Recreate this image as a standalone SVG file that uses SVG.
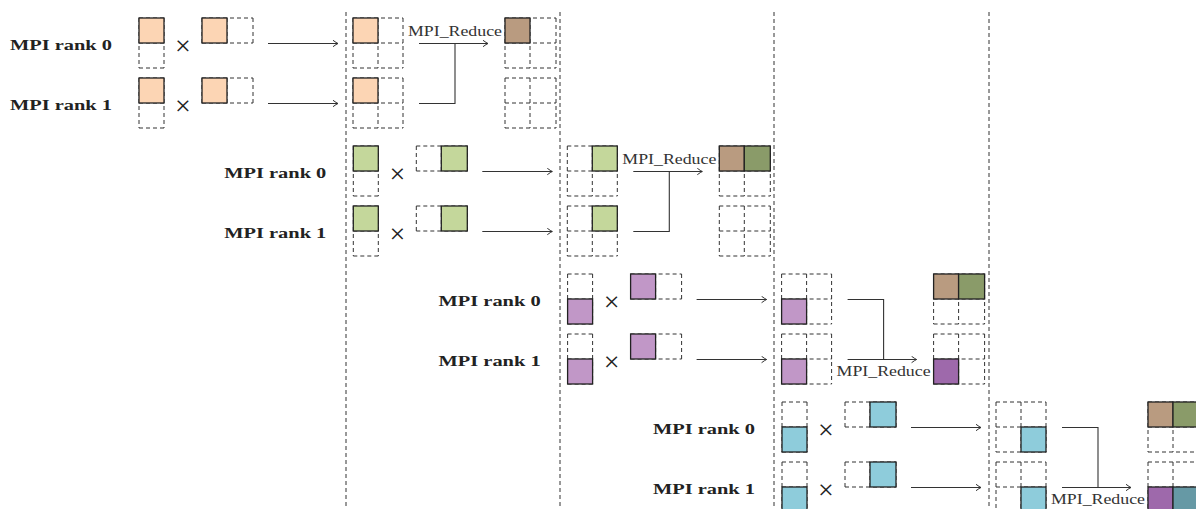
<svg xmlns="http://www.w3.org/2000/svg" width="1196" height="509" viewBox="0 0 1196 509">
<style>
.lbl{font-family:"Liberation Serif",serif;font-weight:bold;font-size:15px;fill:#222}
.red{font-family:"Liberation Serif",serif;font-size:14px;fill:#333}
.tim{font-family:"Liberation Serif",serif;font-size:28px;fill:#222}
.d{fill:none;stroke:#333;stroke-width:1;stroke-dasharray:4 3}
.f{stroke:#222;stroke-width:1.3}
.or{fill:#FCD5B4}.br{fill:#B99B80}.gl{fill:#C4D79B}.gd{fill:#8A9B69}
.pl{fill:#C197C7}.pd{fill:#9E69AB}.bl{fill:#8ECCDB}.tl{fill:#6699A5}
.ar{fill:none;stroke:#333;stroke-width:1.1}
.sep{fill:none;stroke:#333;stroke-width:1;stroke-dasharray:4 3}
</style>
<defs>
<marker id="ah" viewBox="-6 -4 7 8" markerWidth="7" markerHeight="8" refX="0" refY="0" orient="auto" markerUnits="userSpaceOnUse">
<path d="M-5 -3.2 Q-1.5 -0.6 0 0 Q-1.5 0.6 -5 3.2" fill="none" stroke="#333" stroke-width="1"/>
</marker>
</defs>

<g id="separators">
<path class="sep" d="M346 12V509M560 12V509M774 12V509M989 12V509"/>
</g>

<!-- Block 1: orange -->
<g id="block1">
<g id="b1-labels">
<text class="lbl" x="10" y="50" textLength="102" lengthAdjust="spacingAndGlyphs">MPI rank 0</text>
<text class="lbl" x="10" y="110" textLength="102" lengthAdjust="spacingAndGlyphs">MPI rank 1</text>
<text class="tim" x="183" y="54.5" text-anchor="middle">×</text>
<text class="tim" x="183" y="114.5" text-anchor="middle">×</text>
</g>
<g id="b1-left">
<path class="d" d="M139 18h25M139 43h25M139 68h25M139 18v50M164 18v50M139 78h25M139 103h25M139 128h25M139 78v50M164 78v50"/>
<rect class="f or" x="139" y="18" width="25" height="25"/><rect class="f or" x="139" y="78" width="25" height="25"/>
</g>
<g id="b1-right">
<path class="d" d="M202 18h51M202 43h51M202 18v25M227 18v25M253 18v25M202 78h51M202 103h51M202 78v25M227 78v25M253 78v25"/>
<rect class="f or" x="202" y="18" width="25" height="25"/><rect class="f or" x="202" y="78" width="25" height="25"/>
</g>
<g id="b1-mid">
<path class="d" d="M353 18h50M353 43h50M353 68h50M353 18v50M378 18v50M403 18v50M353 78h50M353 103h50M353 128h50M353 78v50M378 78v50M403 78v50"/>
<rect class="f or" x="353" y="18" width="25" height="25"/><rect class="f or" x="353" y="78" width="25" height="25"/>
</g>
<g id="b1-result">
<path class="d" d="M505 18h51M505 43h51M505 68h51M505 18v50M530 18v50M556 18v50M505 78h51M505 103h51M505 128h51M505 78v50M530 78v50M556 78v50"/>
<rect class="f br" x="505" y="18" width="25" height="25"/>
</g>
<text class="red" x="408" y="36" textLength="94" lengthAdjust="spacingAndGlyphs">MPI_Reduce</text>
</g>

<!-- Block 2: green -->
<g id="block2" transform="translate(214.3,128)">
<g id="b2-labels">
<text class="lbl" x="10" y="50" textLength="102" lengthAdjust="spacingAndGlyphs">MPI rank 0</text>
<text class="lbl" x="10" y="110" textLength="102" lengthAdjust="spacingAndGlyphs">MPI rank 1</text>
<text class="tim" x="183" y="54.5" text-anchor="middle">×</text>
<text class="tim" x="183" y="114.5" text-anchor="middle">×</text>
</g>
<g id="b2-left">
<path class="d" d="M139 18h25M139 43h25M139 68h25M139 18v50M164 18v50M139 78h25M139 103h25M139 128h25M139 78v50M164 78v50"/>
<rect class="f gl" x="139" y="18" width="25" height="25"/><rect class="f gl" x="139" y="78" width="25" height="25"/>
</g>
<g id="b2-right">
<path class="d" d="M202 18h51M202 43h51M202 18v25M227 18v25M253 18v25M202 78h51M202 103h51M202 78v25M227 78v25M253 78v25"/>
<rect class="f gl" x="227" y="18" width="26" height="25"/><rect class="f gl" x="227" y="78" width="26" height="25"/>
</g>
<g id="b2-mid">
<path class="d" d="M353 18h50M353 43h50M353 68h50M353 18v50M378 18v50M403 18v50M353 78h50M353 103h50M353 128h50M353 78v50M378 78v50M403 78v50"/>
<rect class="f gl" x="378" y="18" width="25" height="25"/><rect class="f gl" x="378" y="78" width="25" height="25"/>
</g>
<g id="b2-result">
<path class="d" d="M505 18h51M505 43h51M505 68h51M505 18v50M530 18v50M556 18v50M505 78h51M505 103h51M505 128h51M505 78v50M530 78v50M556 78v50"/>
<rect class="f br" x="505" y="18" width="25" height="25"/><rect class="f gd" x="530" y="18" width="26" height="25"/>
</g>
<text class="red" x="408" y="36" textLength="94" lengthAdjust="spacingAndGlyphs">MPI_Reduce</text>
</g>

<!-- Block 3: purple -->
<g id="block3" transform="translate(428.6,256)">
<g id="b3-labels">
<text class="lbl" x="10" y="50" textLength="102" lengthAdjust="spacingAndGlyphs">MPI rank 0</text>
<text class="lbl" x="10" y="110" textLength="102" lengthAdjust="spacingAndGlyphs">MPI rank 1</text>
<text class="tim" x="183" y="54.5" text-anchor="middle">×</text>
<text class="tim" x="183" y="114.5" text-anchor="middle">×</text>
</g>
<g id="b3-left">
<path class="d" d="M139 18h25M139 43h25M139 68h25M139 18v50M164 18v50M139 78h25M139 103h25M139 128h25M139 78v50M164 78v50"/>
<rect class="f pl" x="139" y="43" width="25" height="25"/><rect class="f pl" x="139" y="103" width="25" height="25"/>
</g>
<g id="b3-right">
<path class="d" d="M202 18h51M202 43h51M202 18v25M227 18v25M253 18v25M202 78h51M202 103h51M202 78v25M227 78v25M253 78v25"/>
<rect class="f pl" x="202" y="18" width="25" height="25"/><rect class="f pl" x="202" y="78" width="25" height="25"/>
</g>
<g id="b3-mid">
<path class="d" d="M353 18h50M353 43h50M353 68h50M353 18v50M378 18v50M403 18v50M353 78h50M353 103h50M353 128h50M353 78v50M378 78v50M403 78v50"/>
<rect class="f pl" x="353" y="43" width="25" height="25"/><rect class="f pl" x="353" y="103" width="25" height="25"/>
</g>
<g id="b3-result">
<path class="d" d="M505 18h51M505 43h51M505 68h51M505 18v50M530 18v50M556 18v50M505 78h51M505 103h51M505 128h51M505 78v50M530 78v50M556 78v50"/>
<rect class="f br" x="505" y="18" width="25" height="25"/><rect class="f gd" x="530" y="18" width="26" height="25"/>
<rect class="f pd" x="505" y="103" width="25" height="25"/>
</g>
<text class="red" x="408" y="120" textLength="94" lengthAdjust="spacingAndGlyphs">MPI_Reduce</text>
</g>

<!-- Block 4: blue -->
<g id="block4" transform="translate(643,384)">
<g id="b4-labels">
<text class="lbl" x="10" y="50" textLength="102" lengthAdjust="spacingAndGlyphs">MPI rank 0</text>
<text class="lbl" x="10" y="110" textLength="102" lengthAdjust="spacingAndGlyphs">MPI rank 1</text>
<text class="tim" x="183" y="54.5" text-anchor="middle">×</text>
<text class="tim" x="183" y="114.5" text-anchor="middle">×</text>
</g>
<g id="b4-left">
<path class="d" d="M139 18h25M139 43h25M139 68h25M139 18v50M164 18v50M139 78h25M139 103h25M139 128h25M139 78v50M164 78v50"/>
<rect class="f bl" x="139" y="43" width="25" height="25"/><rect class="f bl" x="139" y="103" width="25" height="25"/>
</g>
<g id="b4-right">
<path class="d" d="M202 18h51M202 43h51M202 18v25M227 18v25M253 18v25M202 78h51M202 103h51M202 78v25M227 78v25M253 78v25"/>
<rect class="f bl" x="227" y="18" width="26" height="25"/><rect class="f bl" x="227" y="78" width="26" height="25"/>
</g>
<g id="b4-mid">
<path class="d" d="M353 18h50M353 43h50M353 68h50M353 18v50M378 18v50M403 18v50M353 78h50M353 103h50M353 128h50M353 78v50M378 78v50M403 78v50"/>
<rect class="f bl" x="378" y="43" width="25" height="25"/><rect class="f bl" x="378" y="103" width="25" height="25"/>
</g>
<g id="b4-result">
<path class="d" d="M505 18h51M505 43h51M505 68h51M505 18v50M530 18v50M556 18v50M505 78h51M505 103h51M505 128h51M505 78v50M530 78v50M556 78v50"/>
<rect class="f br" x="505" y="18" width="25" height="25"/><rect class="f gd" x="530" y="18" width="26" height="25"/>
<rect class="f pd" x="505" y="103" width="25" height="25"/><rect class="f tl" x="530" y="103" width="26" height="25"/>
</g>
<text class="red" x="408" y="120" textLength="94" lengthAdjust="spacingAndGlyphs">MPI_Reduce</text>
</g>

<g id="connectors">
<g id="c-block1">
<path class="ar" d="M268 43.5H338" marker-end="url(#ah)"/>
<path class="ar" d="M268 103.5H338" marker-end="url(#ah)"/>
<path class="ar" d="M419 43.5H488" marker-end="url(#ah)"/>
<path class="ar" d="M419 103.5H455V43.5"/>
</g>
<g id="c-block2" transform="translate(214.3,128)">
<path class="ar" d="M268 43.5H338" marker-end="url(#ah)"/>
<path class="ar" d="M268 103.5H338" marker-end="url(#ah)"/>
<path class="ar" d="M419 43.5H488" marker-end="url(#ah)"/>
<path class="ar" d="M419 103.5H455V43.5"/>
</g>
<g id="c-block3" transform="translate(428.6,256)">
<path class="ar" d="M268 43.5H338" marker-end="url(#ah)"/>
<path class="ar" d="M268 103.5H338" marker-end="url(#ah)"/>
<path class="ar" d="M419 103.5H488" marker-end="url(#ah)"/>
<path class="ar" d="M419 43.5H455V103.5"/>
</g>
<g id="c-block4" transform="translate(643,384)">
<path class="ar" d="M268 43.5H338" marker-end="url(#ah)"/>
<path class="ar" d="M268 103.5H338" marker-end="url(#ah)"/>
<path class="ar" d="M419 103.5H488" marker-end="url(#ah)"/>
<path class="ar" d="M419 43.5H455V103.5"/>
</g>
</g>
</svg>
